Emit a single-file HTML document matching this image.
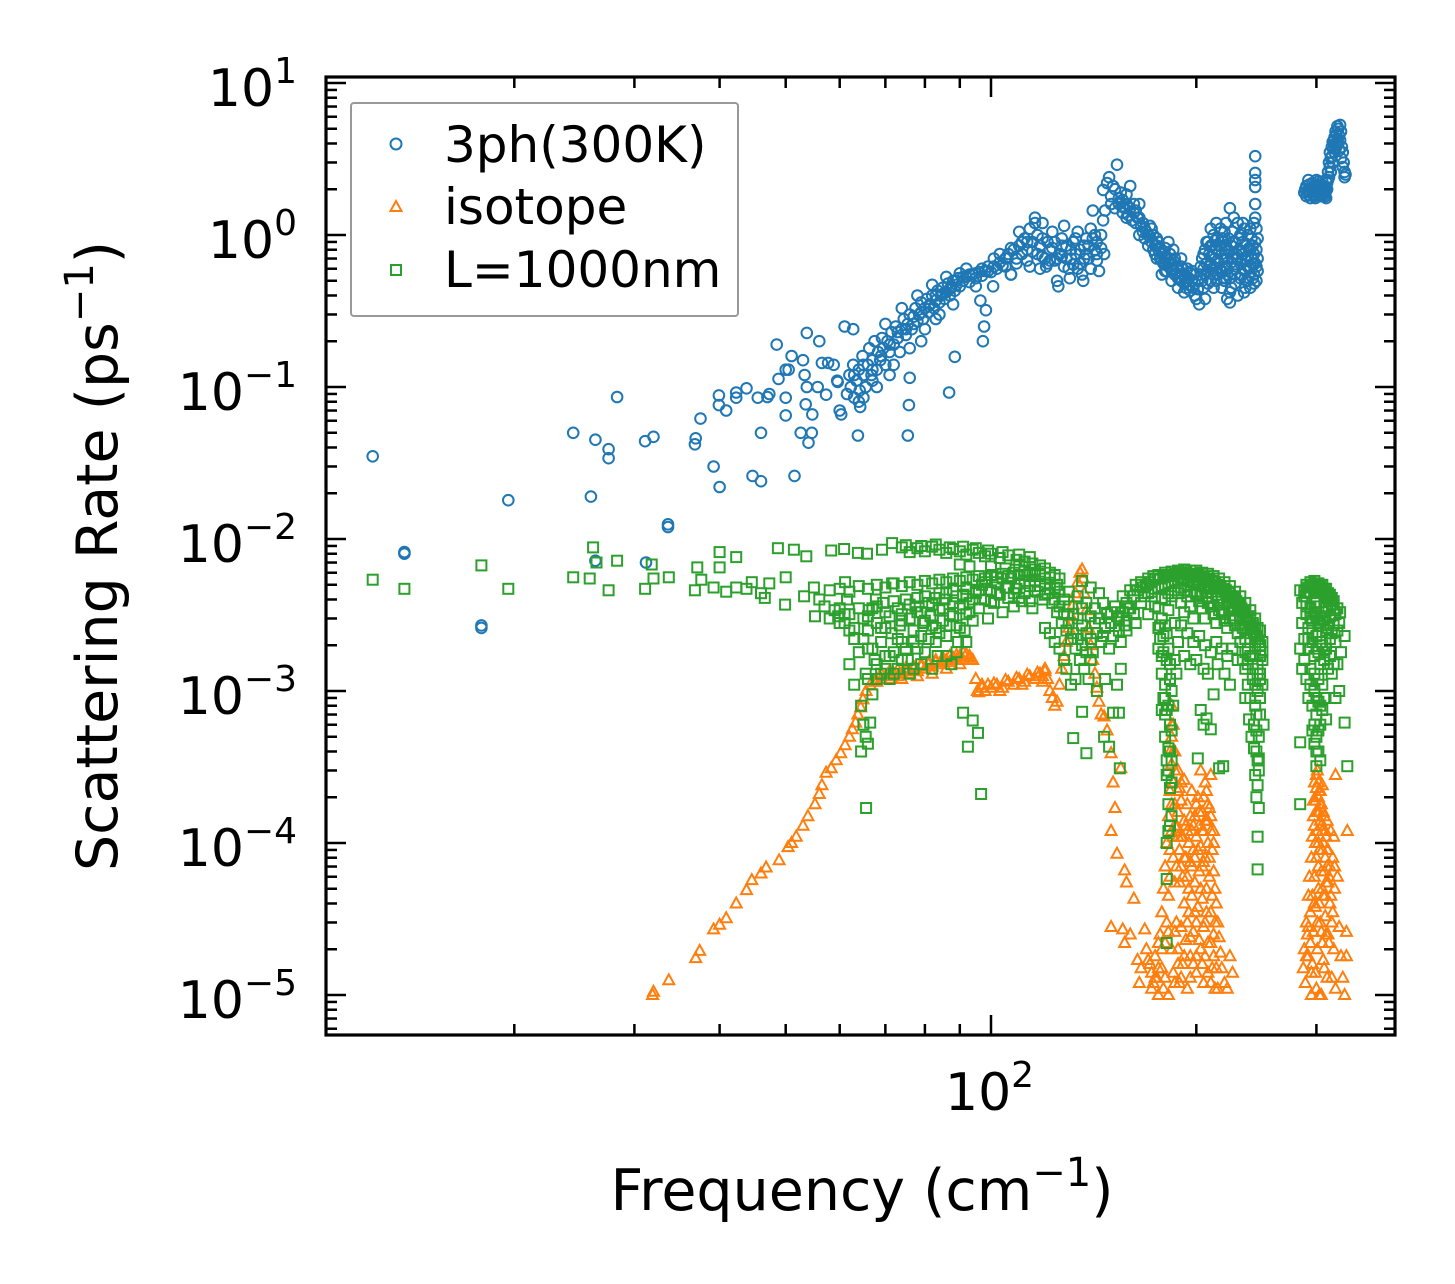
<!DOCTYPE html>
<html><head><meta charset="utf-8"><title>Scattering rate vs frequency</title>
<style>
html,body{margin:0;padding:0;background:#fff;}
svg{display:block;}
text{font-family:"DejaVu Sans","Liberation Sans",sans-serif;fill:#000;}
</style></head>
<body>
<svg id="chart" width="1455" height="1284" viewBox="0 0 1455 1284" xmlns="http://www.w3.org/2000/svg">
<defs><clipPath id="plotclip"><rect x="326" y="77" width="1069" height="958"/></clipPath></defs>
<rect x="0" y="0" width="1455" height="1284" fill="#fff"/>
<g id="marks" clip-path="url(#plotclip)"></g>
<g id="axes"></g>
<g>
  <rect x="351" y="103" width="387" height="213" fill="#fff" stroke="#999" stroke-width="2" rx="3"/>
  <g>
    <circle cx="396" cy="144" r="5.5" fill="none" stroke="#1f77b4" stroke-width="2"/>
    <text x="444" y="162" font-size="50">3ph(300K)</text>
  </g>
  <g>
    <polygon points="396,201 401.5,211 390.5,211" fill="none" stroke="#ff7f0e" stroke-width="2"/>
    <text x="444" y="224" font-size="50">isotope</text>
  </g>
  <g>
    <rect x="391" y="265" width="10" height="10" fill="none" stroke="#2ca02c" stroke-width="2"/>
    <text x="444" y="287" font-size="50">L=1000nm</text>
  </g>
</g>
<text x="862" y="1210" font-size="57" text-anchor="middle">Frequency (cm<tspan font-size="40" dy="-24">−1</tspan><tspan dy="24">)</tspan></text>
<text transform="translate(117,556) rotate(-90)" font-size="57" text-anchor="middle">Scattering Rate (ps<tspan font-size="40" dy="-24">−1</tspan><tspan dy="24">)</tspan></text>
</svg>
<script>
// ---- data ----
const yTickExps = [1, 0, -1, -2, -3, -4, -5];
const yTickLabels = ["1", "0", "−1", "−2", "−3", "−4", "−5"];
const xTickExps = [2];
const xTickLabels = ["2"];
const xMinorValues = [20, 30, 40, 50, 60, 70, 80, 90, 200, 300];

const threePh = [
[12.4,0.035],[13.8,0.0082],[13.8,0.0080],[17.9,0.0027],[17.9,0.0026],[19.6,0.018],[24.4,0.05],[26.3,0.045],[25.9,0.019],[27.5,0.039],[27.5,0.034],[28.3,0.086],[31.1,0.044],[32,0.047],[31.2,0.007],[26.3,0.0072],[33.6,0.0125],[33.6,0.012],
[36.8,0.042],[36.9,0.046],[37.5,0.062],[39.2,0.030],[40,0.022],[39.9,0.088],[39.9,0.076],[40.9,0.07],[43.8,0.098],[42.3,0.092],[42.3,0.085],[45.5,0.085],[47.3,0.09],[47,0.086],[48.8,0.113],[48.5,0.19],[51,0.16],[53,0.15],[53.7,0.227],[56,0.2],[50,0.13],[50.5,0.13],[53.3,0.12],[53.7,0.1],[55.7,0.1],[53.5,0.077],[54.7,0.066],[50,0.065],[50,0.085],[46,0.05],[44.7,0.026],[46,0.024],[51.5,0.026],[52.6,0.05],[54.6,0.05],[54,0.043],[57.3,0.089],[59.6,0.108],[60,0.07],[61,0.25],[62.8,0.24],[64.3,0.074],[63.8,0.048],[57.7,0.144],[56.5,0.144],[58.8,0.14],[59.5,0.11],[60.3,0.066],[64,0.08],
[75.8,0.076],[76,0.115],[75.5,0.048],[86.8,0.092],[88.5,0.158],[97.3,0.2],[97.7,0.25],[98.3,0.32],[96.5,0.37],[95,0.46],[100.7,0.46],[107,0.55],
[61.5,0.09],[62,0.12],[62.3,0.1],[62.8,0.14],[63,0.085],[63.5,0.11],[64,0.13],[64.2,0.095],[64.8,0.16],[65,0.12],[65.5,0.1],[66,0.14],[66.3,0.18],[66.8,0.12],[67,0.15],[67.5,0.2],[68,0.13],[68.3,0.17],[68.8,0.15],[69.2,0.21],[69.5,0.18],[70,0.14],[70.5,0.2],[71,0.17],[71.5,0.23],[72,0.19],[72.5,0.25],[73,0.21],[73.5,0.17],[74,0.24],[74.5,0.28],[75,0.22],[75.5,0.26],[76,0.3],[76.5,0.24],[77,0.29],[77.5,0.33],[78,0.27],[78.5,0.3],[79,0.36],[79.5,0.28],[80,0.33],[80.5,0.38],[81,0.31],[81.5,0.35],[82,0.4],[82.5,0.33],[83,0.37],[83.5,0.43],[84,0.36],[84.5,0.4],[85,0.45],[85.5,0.38],[86,0.42],[86.5,0.48],[87,0.4],[87.5,0.45],[88,0.5],[88.5,0.43],[89,0.47],[89.5,0.52],[90,0.46],[91,0.5],[92,0.53],[93,0.49],[94,0.55],[95,0.52],[96,0.57],[97,0.54],[98,0.58],[99,0.62],[100,0.57],[101,0.62],[102,0.6],[103,0.66],[104,0.63],[105,0.7],
[70,0.26],[74,0.33],[78,0.4],[82,0.47],[86,0.53],[90,0.56],[92,0.6],[68,0.1],[72,0.14],[76,0.18],[80,0.24],[84,0.3],[88,0.35],[65,0.085],[67,0.11],[71,0.12],[79,0.2],[83,0.28],
[106,0.75],[107,0.55],[108,0.8],[109,0.7],[110,0.85],[111,0.75],[112,0.95],[113,0.8],[114,1.1],[115,0.9],[116,1.3],[117,0.75],[118,0.85],[119,1.2],[120,0.7],[120.5,0.62],[121,0.9],[122,0.8],[123,1.05],[124,0.68],[125,0.5],[125.5,0.46],[126,0.75],[127,0.85],[128,1.15],[129,0.7],[130,0.6],[130.5,0.52],[131,0.8],[132,0.9],[133,0.75],[134,1.05],[135,0.65],[136,0.55],[136.5,0.5],[137,0.85],[138,0.95],[139,0.7],[140,1.1],[141,1.45],[142,0.8],[143,0.9],[144,0.58],[145,1.0],[146,1.25],[146.5,0.75],[147,1.45],[114,0.62],[118,0.6],[122,0.68],[128,0.62],[134,0.6],[140,0.6],[143,0.68],[110,1.05],[127,0.72],[132,0.64],[116,1.2],[113,0.9],[119,0.95],[124,0.9],[138,0.75],[142,1.0],
[146,1.98],[148,2.2],[149,2.4],[150,1.8],[151,2.1],[152,2.0],[153,2.9],[154,1.6],[155,1.9],[156,1.7],[157,1.5],[158,1.85],[160,2.1],[156,1.4],[158,1.3],[160,1.5],[162,1.4],[163,1.2],[164,1.3],[165,1.6],[166,1.15],[167,1.05],[168,1.1],[170,1.0],[171,1.15],[172,0.9],[173,0.8],[174,0.85],[175,0.95],[176,0.8],[177,0.7],[178,0.75],[179,0.65],[180,0.7],[180,0.82],[181,0.58],[182,0.65],[183,0.75],[184,0.6],[185,0.68],[186,0.55],[187,0.62],[188,0.52],[189,0.58],[190,0.5],[191,0.55],[192,0.48],[193,0.52],[194,0.6],[195,0.47],[196,0.56],[197,0.5],[198,0.45],[199,0.4],[200,0.38],[201,0.5],[202,0.35],[180,0.58],[185,0.8],[190,0.7],[175,0.7],[182,0.9],[178,0.55],[184,0.5],[188,0.45],[192,0.42],[196,0.43],[170,0.85],[165,1.0],
[203,0.55],[204,0.7],[205,0.6],[206,0.8],[207,0.65],[208,0.9],[209,0.75],[210,0.85],[211,0.6],[212,1.0],[213,0.7],[214,0.8],[215,0.95],[216,0.65],[217,1.1],[218,0.75],[219,0.9],[220,0.8],[221,1.2],[222,0.7],[223,0.95],[224,1.5],[224,0.36],[222,0.38],[225,0.85],[226,1.05],[227,0.6],[228,0.9],[229,0.75],[230,1.2],[231,0.8],[232,1.0],[233,0.55],[234,0.9],[235,1.1],[236,0.7],[237,0.85],[238,1.0],[239,0.6],[240,0.8],[241,0.95],[242,0.65],[243,0.75],[244,0.9],[244,1.3],[244,1.6],[244,2.07],[244,2.3],[244,2.56],[244,3.3],[245,0.8],[245,1.1],[245,0.5],[205,0.45],[210,0.5],[215,0.55],[220,0.5],[225,0.45],[230,0.4],[235,0.42],[240,0.45],[206,0.38],[212,0.45],[218,0.58],[228,0.55],[232,0.65],[238,0.5],[210,0.65],[214,0.6],[220,0.62],[226,0.7],[233,0.78],[208,0.58],[216,0.85],[222,0.55],[236,0.58],[242,0.52],[246,0.7],[246,0.95],[243,1.2],
[288,1.9],[290,2.1],[290,1.8],[292,2.3],[293,1.95],[295,2.0],[296,2.2],[297,1.85],[298,2.1],[300,1.9],[301,2.05],[302,2.25],[303,1.8],[304,2.0],[305,2.15],[306,1.9],[307,2.1],[308,1.85],[309,2.0],[310,2.3],[311,2.0],[312,2.6],[313,3.0],[314,3.5],[315,3.2],[316,3.8],[317,4.1],[318,3.7],[319,4.4],[320,4.0],[321,4.6],[322,4.2],[323,5.0],[324,4.5],[325,5.3],[326,4.8],[327,3.8],[328,3.5],[329,3.0],[330,2.6],[331,2.5],[326,3.2],[294,1.75],[299,1.75],[305,1.8],[309,1.8]
];

const threePhExtra = [
[150,1.6],[152,1.5],[154,1.75],[156,1.55],[158,1.6],[159,1.35],[161,1.25],[163,1.45],[165,1.3],[167,1.2],[169,1.05],[171,0.98],[173,1.0],[175,0.85],[177,0.82],[179,0.78],[181,0.72],[183,0.66],[185,0.6],[187,0.56],[189,0.52],[191,0.6],[193,0.45],[195,0.52],[197,0.58],[199,0.48],[201,0.44],[176,0.9],[178,0.68],[186,0.7],[190,0.62],[194,0.5],[198,0.55],[172,1.1],[168,0.95],[162,1.6],[174,0.75],
[203,0.62],[204,0.5],[205,0.75],[206,0.55],[207,0.9],[208,0.48],[209,0.62],[210,0.72],[211,0.85],[212,0.55],[213,0.92],[214,0.5],[215,0.68],[216,0.78],[217,0.58],[218,0.95],[219,0.52],[220,0.7],[221,0.86],[222,0.6],[223,0.78],[224,0.52],[225,0.66],[226,0.9],[227,0.75],[228,0.48],[229,0.62],[230,0.7],[231,0.95],[232,0.52],[233,0.68],[234,0.75],[235,0.6],[236,0.88],[237,0.5],[238,0.72],[239,0.82],[240,0.62],[241,0.7],[242,0.85],[243,0.55],[244,0.65],[245,0.62],[246,0.58],[210,1.1],[214,1.2],[220,1.05],[227,1.3],[234,1.2],[240,1.1],[218,0.45],[224,0.42],[236,0.45],[243,0.48],
[289,2.0],[291,1.95],[293,2.15],[294,1.9],[296,2.05],[297,2.0],[299,1.95],[300,2.1],[302,1.95],[303,2.05],[305,1.95],[306,2.05],[308,2.0],[310,1.95],[311,2.2],[312,2.3],[313,2.4],[314,2.8],[315,2.6],[316,3.3],[317,3.0],[318,4.2],[319,3.5],[320,4.8],[321,3.8],[322,5.2],[323,4.0],[324,3.6],[325,4.2],[328,2.8],[330,2.4],[292,1.85],[298,1.8],[304,1.85],[310,1.75],[306,2.25],[300,2.3],
[101,0.7],[103,0.75],[105,0.62],[107,0.82],[109,0.65],[111,0.9],[113,0.68],[115,0.78],[117,1.0],[119,0.72],[121,0.65],[123,0.82],[125,0.7],[127,0.95],[129,0.85],[131,0.7],[133,0.95],[135,0.8],[137,0.7],[139,0.85],[141,0.95],[143,0.75],[145,0.82],
[63,0.12],[65,0.14],[67,0.13],[69,0.16],[71,0.19],[73,0.23],[75,0.24],[77,0.26],[79,0.31],[81,0.34],[83,0.4],[85,0.41],[87,0.44],[89,0.5],[91,0.53],[93,0.55],[95,0.56],[97,0.6],[99,0.58]
];

const isotope = [
[31.9,1.0e-5],[32.0,1.05e-5],[33.7,1.25e-5],[36.9,1.75e-5],[37.4,1.95e-5],[39.2,2.7e-5],[40.0,2.9e-5],[40.9,3.2e-5],[42.3,4.0e-5],[43.8,4.9e-5],[44.6,5.7e-5],[46.0,6.3e-5],[46.8,6.9e-5],[48.9,7.7e-5],[50.4,9.4e-5],[51.0,1.0e-4],[51.8,1.1e-4],[53.0,1.3e-4],[53.9,1.5e-4],[55.2,1.8e-4],[56.0,2.1e-4],[56.5,2.4e-4],[57.3,2.9e-4],[58.3,3.1e-4],[59.3,3.5e-4],[60.2,3.9e-4],[61.1,4.4e-4],[62.0,5.0e-4],[62.6,5.6e-4],[63.3,6.2e-4],[63.8,7.0e-4],[64.4,7.8e-4],[64.9,8.8e-4],[65.6,1.0e-3],[66.5,1.1e-3],[67.5,1.15e-3],
[68,1.15e-3],[69,1.2e-3],[70,1.25e-3],[71,1.2e-3],[72,1.3e-3],[73,1.25e-3],[74,1.3e-3],[75,1.35e-3],[76,1.3e-3],[77,1.4e-3],[78,1.35e-3],[79,1.45e-3],[80,1.4e-3],[81,1.5e-3],[82,1.45e-3],[83,1.55e-3],[84,1.5e-3],[85,1.55e-3],[86,1.6e-3],[87,1.55e-3],[88,1.65e-3],[89,1.6e-3],[90,1.7e-3],[91,1.6e-3],[92,1.75e-3],[93,1.65e-3],[94,1.6e-3],[95,1.2e-3],[95.5,1.0e-3],[96,0.98e-3],[97,1.05e-3],[98,1.0e-3],[99,1.1e-3],[100,1.05e-3],[102,1.1e-3],[104,1.05e-3],[106,1.15e-3],[108,1.1e-3],[110,1.2e-3],[112,1.15e-3],[114,1.25e-3],[116,1.2e-3],[118,1.3e-3],[119,1.25e-3],[120,1.35e-3],[121,1.2e-3],[122,1.0e-3],[123,0.9e-3],[124,0.8e-3],[125,0.85e-3],[126,1.1e-3],[127,1.4e-3],[128,1.7e-3],[129,2.1e-3],[130,2.6e-3],[131,3.1e-3],[132,3.7e-3],[133,4.4e-3],[134,5.2e-3],[135,6.0e-3],[136,6.3e-3],[136.5,5.5e-3],[137,4.4e-3],[138,3.4e-3],[139,2.6e-3],[140,2.0e-3],[141,1.6e-3],[142,1.3e-3],[143,1.05e-3],[144,8.5e-4],[145,7e-4],
[146.5,6.8e-4],[148,5.5e-4],[150,3.9e-4],[151,2.5e-4],[152,1.7e-4],[150,1.2e-4],[153,8.5e-5],[157,6.6e-5],[158,5.5e-5],[162,4.3e-5],[150,2.8e-5],[156,2.7e-5],[160,2.5e-5],[157,2.2e-5],[164,1.7e-5],[166,1.5e-5],[165,1.2e-5],[155,3.1e-4],
[168,2.7e-5],[169,2e-5],[170,1.7e-5],[171,1.6e-5],[172,1.4e-5],[173,1.2e-5],[174,1.8e-5],[175,1.3e-5],[176,1.0e-5],[177,2.5e-5],[178,3.5e-5],[178,1.5e-5],[179,5e-5],[180,7e-5],[180,2.2e-5],[181,1e-4],[181,3e-5],[182,1.5e-4],[182,4.5e-5],[183,2.2e-4],[183,6e-5],[184,3.3e-4],[184,5e-4],[184,8e-4],[184,1.2e-4],[185,2.5e-4],[185,8e-5],[185,1.4e-5],[186,1.8e-4],[186,5.5e-5],[187,1.3e-4],[187,3e-5],[188,1.1e-4],[188,2e-5],[189,9e-5],[189,1.2e-5],[190,7e-5],[190,2.8e-5],[191,1.1e-4],[191,1.6e-5],[192,8e-5],[192,4e-5],[193,1.3e-4],[193,2.3e-5],[194,6e-5],[194,1.1e-5],[195,1e-4],[195,3.5e-5],[196,7.5e-5],[196,1.8e-5],[197,1.2e-4],[197,4.5e-5],[198,9e-5],[198,2.6e-5],[199,1.5e-4],[199,5.5e-5],[200,1.1e-4],[200,1.4e-5],[201,2e-4],[201,3.8e-5],[202,1.3e-4],[202,6.5e-5],[203,9.5e-5],[203,2e-5],[204,1.6e-4],[204,4.3e-5],[205,1.2e-4],[205,1.2e-5],[206,8e-5],[206,3e-5],[207,1.4e-4],[207,5e-5],[208,1e-4],[208,2.2e-5],[209,1.7e-4],[209,6e-5],[210,1.2e-4],[210,3.5e-5],[211,9e-5],[211,1.5e-5],[212,6.5e-5],[212,2.5e-5],[213,5e-5],[213,1.1e-5],[214,4e-5],[215,3e-5],[216,2.4e-5],[217,1.9e-5],[218,1.5e-5],[220,1.2e-5],[222,1.1e-5],[224,1.8e-5],[226,1.4e-5],[210,2.8e-4],[206,2.5e-4],[203,3e-4],[190,1.9e-4],[188,3e-4],[192,2.6e-4],[197,2.2e-4],[179,1.1e-5],[182,1.0e-5],[176,2.2e-5],[186,1.2e-5],[200,1.8e-5],[205,2.8e-5],[196,1.3e-5],[210,1.2e-5],[215,1.1e-5],[183,4e-4],[185,6e-4],[186,4e-4],[189,2.3e-4],[194,1.8e-4],[199,8e-5],[204,7e-5],[208,1.4e-4],[212,1.0e-4],
[287,1.5e-5],[288,2e-5],[289,1.2e-5],[290,3e-5],[291,2.5e-5],[292,4.5e-5],[292,1.8e-5],[293,6e-5],[294,3.5e-5],[295,8e-5],[295,1.4e-5],[296,1.1e-4],[296,4.5e-5],[297,1.5e-4],[297,2.6e-5],[298,1.3e-4],[298,6e-5],[299,1.9e-4],[299,3.8e-5],[300,2.3e-4],[300,8e-5],[300,1.1e-5],[301,3e-4],[301,1.2e-4],[301,2e-5],[302,2e-4],[302,5e-5],[303,1.6e-4],[303,9e-5],[303,1e-5],[304,1.4e-4],[304,3e-5],[305,1.8e-4],[305,6.5e-5],[306,1.2e-4],[306,2.2e-5],[307,1e-4],[307,4.5e-5],[308,1.5e-4],[308,1.5e-5],[309,8e-5],[309,3.3e-5],[310,1.1e-4],[310,5.5e-5],[311,7e-5],[311,1.3e-5],[312,9e-5],[312,2.5e-5],[313,6e-5],[314,4e-5],[315,1.2e-4],[316,3e-5],[317,8e-5],[318,2e-5],[319,5e-5],[320,1.1e-5],[322,6e-5],[324,2.8e-5],[326,1.8e-5],[328,1.3e-5],[330,1e-5],[332,2.6e-5],[332,1.8e-5],[333,1.2e-4],[320,2.8e-4],[298,2.5e-4],[305,1.0e-5],[295,1e-5],[302,1.0e-4],[304,2.2e-4],[306,9e-5],[300,1.6e-4]
];

const isotopeExtra = [
[172,1.1e-5],[174,1.3e-5],[176,1.5e-5],[178,2e-5],[180,1.3e-5],[182,2.6e-5],[184,2e-5],[186,2.6e-5],[188,1.6e-5],[190,1.3e-5],[192,1.8e-5],[194,3e-5],[196,2.4e-5],[198,1.6e-5],[200,3e-5],[202,2.3e-5],[204,1.6e-5],[206,1.8e-5],[208,1.4e-5],[210,2.2e-5],[212,1.8e-5],[214,1.5e-5],[183,9e-5],[185,1.1e-4],[187,7e-5],[189,5.5e-5],[191,6e-5],[193,8e-5],[195,5e-5],[197,7e-5],[199,3.5e-5],[201,9e-5],[203,5e-5],[205,7.5e-5],[207,3.5e-5],[209,8e-5],[211,4.5e-5],[213,3e-5],[184,1.8e-4],[186,1.3e-4],[188,1.6e-4],[190,1.1e-4],[192,1.4e-4],[194,1.2e-4],[196,1.5e-4],[198,1.3e-4],[200,1.8e-4],[202,1.6e-4],[204,1.2e-4],[206,1.4e-4],[208,1.8e-4],[210,1.5e-4],[212,1.2e-4],[185,4e-4],[184,6e-4],[186,3e-4],[188,2.2e-4],[190,2.5e-4],[207,2.2e-4],[205,2e-4],
[290,1.8e-5],[292,2.8e-5],[294,2.2e-5],[296,1.6e-5],[298,4e-5],[299,1.4e-5],[301,3e-5],[302,7e-5],[303,4e-5],[305,2.6e-5],[306,5e-5],[307,1.7e-5],[308,6.5e-5],[309,4.5e-5],[310,2.5e-5],[311,9e-5],[312,5.5e-5],[313,2.2e-5],[314,7e-5],[315,4.5e-5],[316,1.3e-5],[317,3.5e-5],[318,1.1e-4],[319,7e-5],[299,1.0e-4],[301,1.6e-4],[303,2.2e-4],[305,1.3e-4],[307,1.6e-4],[309,1.2e-4],[311,1.4e-4],[297,1.9e-4],[300,2.8e-4],[302,2.5e-4],[304,1.8e-4],[306,2.4e-4],
[69,1.3e-3],[71,1.35e-3],[73,1.38e-3],[75,1.42e-3],[77,1.45e-3],[79,1.5e-3],[81,1.55e-3],[83,1.6e-3],[85,1.65e-3],[87,1.7e-3],[89,1.72e-3],[91,1.78e-3],[93,1.7e-3],[97,1.1e-3],[101,1.12e-3],[105,1.18e-3],[109,1.22e-3],[113,1.28e-3],[117,1.32e-3],[120,1.4e-3],[74,1.2e-3],[78,1.25e-3],[82,1.3e-3],[86,1.4e-3],[90,1.5e-3],[103,1.0e-3],[111,1.1e-3],[119,1.15e-3]
];

const boundary = [
[12.4,0.0054],[13.8,0.0047],[17.9,0.0067],[19.6,0.0047],[24.4,0.0056],[26.1,0.0088],[26.4,0.0070],[25.8,0.0055],[27.5,0.0046],[28.3,0.0072],[31.1,0.0047],[32.0,0.0055],[31.8,0.0068],[33.7,0.0056],[36.8,0.0046],[37.1,0.0065],[37.6,0.0054],[40.0,0.0082],[40.0,0.0065],[42.3,0.0076],[39.2,0.0048],[40.9,0.0045],[42.3,0.0048],[43.8,0.0047],[44.6,0.0052],[46.0,0.0044],[47.3,0.0051],[48.7,0.0087],[51.4,0.0085],[53.6,0.0077],[58.3,0.0084],[60.9,0.0086],[63.8,0.0081],[65.8,0.0080],[69.2,0.0085],[71.6,0.0094],[49.9,0.0037],[46.6,0.0041],[50.0,0.0056],[53.2,0.0042],[55.2,0.0031],[56.0,0.0040],[61.1,0.0052],[61.5,0.0040],[59.7,0.0031],[66.2,0.0034],[67.8,0.0040],[71.6,0.0051],
[74,0.0088],[76,0.0082],[78,0.0087],[80,0.0083],[82,0.0089],[84,0.0085],[86,0.0081],[88,0.0086],[90,0.0083],[92,0.0079],[94,0.0085],[96,0.0081],[98,0.0077],[100,0.0080],[103,0.0075],[106,0.0078],[109,0.0073],[112,0.0071],[115,0.0069],[118,0.0067],[75,0.0091],[79,0.009],[83,0.0092],[87,0.0088],[91,0.0089],[95,0.0087],[99,0.0084],[104,0.0082],[110,0.0079],[114,0.0076],
[55,0.0048],[58,0.0046],[60,0.0047],[62,0.0045],[64,0.0049],[66,0.0047],[68,0.005],[70,0.0048],[72,0.0051],[74,0.0049],[76,0.0052],[78,0.005],[80,0.0053],[82,0.0051],[84,0.0054],[86,0.0052],[88,0.0055],[90,0.0053],[92,0.0056],[94,0.0054],[96,0.0057],[98,0.0055],[100,0.0058],[102,0.0056],[104,0.0059],[106,0.0057],[108,0.006],[110,0.0058],[112,0.0062],[114,0.006],[116,0.0063],[118,0.0061],[120,0.0064],[122,0.006],[124,0.0058],[126,0.0055],
[57,0.0036],[58,0.003],[59,0.0034],[60,0.0028],[61,0.0032],[62,0.0025],[62,0.0015],[63,0.0022],[64,0.0018],[65,0.003],[65.5,0.0013],[66,0.0025],[67,0.0035],[67.5,0.0016],[68,0.0028],[69,0.0021],[69.5,0.0038],[70,0.0014],[71,0.0031],[71.5,0.0024],[72,0.0018],[73,0.0035],[73.5,0.0027],[74,0.0021],[75,0.004],[75.5,0.0016],[76,0.003],[77,0.0025],[77.5,0.0036],[78,0.0019],[79,0.0033],[79.5,0.0028],[80,0.0042],[81,0.0022],[81.5,0.0031],[82,0.0037],[83,0.0026],[83.5,0.0017],[84,0.0034],[85,0.0029],[85.5,0.004],[86,0.0023],[87,0.0032],[87.5,0.0015],[88,0.0038],[89,0.0027],[89.5,0.0021],[90,0.0035],[91,0.0043],[91.5,0.0025],[92,0.0032],[93,0.0038],[94,0.0029],[95,0.0044],[63,0.0011],[64.5,0.0008],[65,0.0006],[65.5,0.0005],[66,0.00045],[66.5,0.00062],[67,0.00095],[68,0.0012],[64.5,0.0004],[65.6,0.00017],[69,0.0013],[71,0.0012],[73,0.0014],[76,0.0013],[79,0.0015],[82,0.0014],[66,0.0019],[70,0.0026],[74,0.0032],[78,0.0041],[84,0.0044],[88,0.0046],[92,0.0042],
[91,0.00072],[94,0.00064],[95.7,0.00053],[92.5,0.00043],[96.7,0.00021],[90,0.0068],[93,0.0066],
[95,0.0045],[96,0.0035],[97,0.005],[98,0.004],[99,0.003],[100,0.0046],[101,0.0038],[102,0.0052],[103,0.0043],[104,0.0033],[105,0.0048],[106,0.0041],[107,0.0055],[108,0.0036],[109,0.0047],[110,0.0051],[111,0.0039],[112,0.0044],[113,0.0058],[114,0.0049],[115,0.0035],[116,0.0053],[117,0.0045],[118,0.0059],[119,0.004],[120,0.005],[121,0.0044],[122,0.0056],[123,0.0038],[124,0.0048],[125,0.0033],[126,0.0045],[127,0.0028],[128,0.004],[129,0.0025],[130,0.0036],[131,0.0022],[132,0.0032],[133,0.0019],[134,0.003],[135,0.0016],[136,0.0027],[137,0.0014],[138,0.0024],[139,0.0012],[140,0.0022],[129,0.0014],[131,0.0011],[133,0.0012],[128,0.0016],[126,0.0019],[124,0.0021],[122,0.0024],[120,0.0026],[130,0.0045],[134,0.0042],[138,0.0038],[142,0.0035],[144,0.003],[146,0.0038],[148,0.0032],[150,0.0028],[152,0.0036],[154,0.0025],[156,0.0033],[158,0.0029],[141,0.0018],[143,0.0024],[145,0.0021],[147,0.0026],[149,0.0019],[151,0.0023],[153,0.0031],[155,0.0021],[157,0.0027],[159,0.0035],[136,0.0053],[140,0.0048],[144,0.0044],
[132,0.00049],[136,0.00073],[138,0.00039],[146.5,0.0005],[151,0.00072],[154.5,0.00031],[149,0.00043],[154,0.00072],[153,0.0011],[155,0.0014],[143,0.0010],[147,0.0012],
[156,0.0042],[160,0.0046],[163,0.005],[166,0.0052],[170,0.0055],[173,0.0057],[176,0.0058],[180,0.006],[184,0.0061],[188,0.0062],[192,0.0063],[196,0.0062],[200,0.0062],[204,0.006],[208,0.0059],[212,0.0057],[216,0.0055],[220,0.0052],[224,0.0049],[228,0.0045],[232,0.0042],[236,0.0038],[240,0.0034],[244,0.003],[248,0.0025],[250,0.0021],
[160,0.0035],[163,0.0028],[166,0.0038],[168,0.0042],[170,0.0032],[172,0.0045],[174,0.0036],[176,0.0048],[178,0.0041],[180,0.005],[182,0.0044],[184,0.0052],[186,0.0046],[188,0.0054],[190,0.0048],[192,0.0055],[194,0.005],[196,0.0056],[198,0.0052],[200,0.0054],[202,0.005],[204,0.0053],[206,0.0047],[208,0.0052],[210,0.0045],[212,0.005],[214,0.0043],[216,0.0048],[218,0.0041],[220,0.0045],[222,0.0038],[224,0.0042],[226,0.0036],[228,0.004],[230,0.0034],[232,0.0037],[234,0.0031],[236,0.0034],[238,0.0029],[240,0.0031],[242,0.0027],[244,0.0026],[246,0.0022],[248,0.002],
[176,0.0035],[178,0.003],[180,0.0027],[182,0.0034],[177,0.0022],[179,0.0018],[181,0.0024],[183,0.0015],[178,0.0013],[180,0.0011],[182,0.0019],[184,0.001],[179,0.0009],[181,0.00075],[183,0.0006],[180,0.0005],[182,0.00042],[184,0.00035],[181,0.00028],[183,0.00023],[182,0.00018],[184,0.00015],[181,0.0001],[183,0.00013],[181,5.8e-5],[181,2.2e-5],[178,0.00075],[186,0.0028],[186,0.0016],[176,0.0019],[185,0.0008],
[190,0.0038],[192,0.0033],[194,0.0042],[196,0.0036],[198,0.003],[200,0.0044],[202,0.0039],[204,0.0035],[206,0.003],[208,0.0041],[210,0.0036],[212,0.0032],[214,0.0028],[216,0.0037],[218,0.0033],[220,0.0029],[222,0.0026],[224,0.0034],[226,0.003],[228,0.0027],[230,0.0024],[232,0.003],[190,0.0027],[194,0.0024],[198,0.0021],[202,0.0023],[206,0.002],[210,0.0018],[214,0.0021],[218,0.0019],[222,0.0017],[226,0.0019],[230,0.0016],[192,0.0017],[196,0.0015],[200,0.0016],[205,0.0014],[208,0.0013],[215,0.0015],[220,0.0013],[188,0.0021],[187,0.0013],
[203,0.00075],[205,0.0006],[207,0.00066],[210,0.00056],[201,0.00036],[216,0.00031],[219,0.00032],[212,0.00095],[224,0.0011],
[234,0.0026],[236,0.0022],[238,0.0019],[240,0.0024],[242,0.0017],[244,0.0021],[246,0.0015],[248,0.0012],[236,0.0014],[238,0.0011],[240,0.0009],[242,0.0012],[244,0.0008],[246,0.001],[248,0.0007],[239,0.00065],[241,0.0005],[243,0.00042],[245,0.00055],[247,0.00036],[244,0.00028],[246,0.00024],[245,0.0002],[247,0.00017],[246,0.00011],[246,6.7e-5],[234,0.0016],[250,0.0016],[250,0.0011],[251,0.0006],[236,0.0009],[232,0.0021],
[284,0.0046],[286,0.0038],[288,0.0042],[290,0.005],[292,0.0045],[294,0.0052],[296,0.0048],[298,0.0053],[300,0.0049],[302,0.0051],[304,0.0046],[306,0.005],[308,0.0044],[310,0.0047],[312,0.0041],[314,0.0043],[316,0.0037],[318,0.0039],[320,0.0032],[322,0.0035],[324,0.0028],[286,0.0028],[288,0.0022],[290,0.0032],[292,0.0026],[294,0.0035],[296,0.0029],[298,0.0038],[300,0.0031],[302,0.0036],[304,0.0027],[306,0.0033],[308,0.0029],[310,0.0035],[312,0.0026],[314,0.0031],[316,0.0024],[318,0.0027],[320,0.0021],[322,0.0025],[288,0.0016],[290,0.0012],[292,0.0019],[294,0.0014],[296,0.0021],[298,0.0017],[300,0.0023],[302,0.0018],[304,0.0015],[306,0.002],[308,0.0016],[310,0.0019],[312,0.0014],[314,0.0017],[316,0.0013],[318,0.0015],[284,0.0019],[286,0.0014],[292,0.0009],[294,0.0011],[296,0.0008],[298,0.001],[300,0.0007],[302,0.00085],[304,0.0006],[306,0.00075],[308,0.0009],[310,0.00065],[296,0.00055],[298,0.00045],[300,0.0005],[302,0.0004],[304,0.00035],[300,0.00032],[284,0.00046],[284,0.00018],[333,0.00032],[330,0.00062],[330,0.0023],[325,0.0033],[322,0.0015],[324,0.001],[320,0.0009],[326,0.0018]
];

const boundaryExtra = [
[158,0.0038],[162,0.0042],[164,0.0046],[167,0.0048],[169,0.005],[171,0.0052],[174,0.0054],[177,0.0055],[179,0.0056],[181,0.0057],[183,0.0058],[185,0.0057],[187,0.0059],[189,0.006],[191,0.0059],[193,0.006],[195,0.0059],[197,0.0058],[199,0.0059],[201,0.0058],[203,0.0057],[205,0.0056],[207,0.0055],[209,0.0054],[211,0.0053],[213,0.0052],[215,0.005],[217,0.0049],[219,0.0047],[221,0.0046],[223,0.0044],[225,0.0042],[227,0.0041],[229,0.0039],[231,0.0037],[233,0.0035],[235,0.0033],[237,0.003],[239,0.0028],[241,0.0026],[243,0.0024],[245,0.0023],[247,0.0021],
[170,0.0044],[174,0.0047],[178,0.0049],[182,0.0051],[186,0.0053],[190,0.0054],[194,0.0053],[198,0.0052],[202,0.0051],[206,0.005],[210,0.0049],[214,0.0047],[218,0.0045],[222,0.0042],[226,0.0039],[230,0.0036],[234,0.0033],[238,0.0031],[242,0.0028],[246,0.0026],
[180,0.004],[184,0.0042],[188,0.0044],[192,0.0046],[196,0.0045],[200,0.0043],[204,0.0042],[208,0.0038],[212,0.0036],[216,0.0034],[220,0.0032],[224,0.003],[228,0.0029],[232,0.0027],[236,0.0025],[240,0.0022],[244,0.0019],[248,0.0017],
[177,0.0027],[179,0.0023],[181,0.0016],[183,0.0012],[182,0.0008],[180,0.0007],[184,0.00055],[182,0.0003],[183,0.0004],[181,0.00035],[184,0.00025],[182,0.00012],[180,0.0009],[178,0.0017],[176,0.0026],
[240,0.0017],[242,0.0014],[244,0.0011],[246,0.0013],[248,0.0009],[245,0.0007],[247,0.0005],[243,0.0006],[245,0.0004],[247,0.0003],[246,0.00035],[248,0.0013],[250,0.0018],[238,0.0015],[236,0.0018],
[288,0.0045],[290,0.0042],[292,0.0048],[294,0.0044],[296,0.005],[298,0.0046],[300,0.0051],[302,0.0047],[304,0.0049],[306,0.0045],[308,0.0047],[310,0.0042],[312,0.0044],[314,0.0039],[316,0.0041],[318,0.0034],[290,0.0036],[294,0.003],[298,0.0033],[302,0.0028],[306,0.003],[310,0.0025],[314,0.0022],[296,0.0024],[300,0.0019],[304,0.0021],[308,0.0018],[292,0.0022],[298,0.0013],[302,0.0012],[306,0.0011],[300,0.0009],[304,0.0008],[298,0.0006],[302,0.00055],[300,0.0004],
[60,0.0035],[61,0.0028],[62,0.0032],[63,0.0026],[64,0.0035],[65,0.0022],[66,0.0031],[67,0.0019],[68,0.0036],[69,0.0026],[70,0.0033],[71,0.0017],[72,0.0039],[73,0.0022],[74,0.0029],[75,0.0019],[76,0.0037],[77,0.0021],[78,0.0033],[79,0.0023],[80,0.0029],[81,0.0038],[82,0.0027],[83,0.0041],[84,0.0024],[85,0.0035],[86,0.0044],[87,0.0027],[88,0.0031],[89,0.0042],[90,0.0026],[91,0.0037],[92,0.0047],[93,0.0033],[94,0.004],[66,0.0012],[68,0.0015],[70,0.0017],[72,0.0013],[74,0.0016],[77,0.0014],[80,0.0018],[83,0.0021],[86,0.0017],[89,0.0018],[92,0.0021],
[96,0.0046],[98,0.0052],[100,0.0039],[102,0.0044],[104,0.0055],[106,0.0048],[108,0.0044],[110,0.0041],[112,0.0053],[114,0.0039],[116,0.0046],[118,0.0049],[120,0.0043],[122,0.0047],[124,0.004],[126,0.0036],[128,0.0032],[130,0.0028],[132,0.0024],[134,0.0022],[136,0.002],[138,0.0018],[140,0.0016],[142,0.0028],[146,0.0023],[150,0.0033],[154,0.003],[158,0.0025],[162,0.0032],[136,0.0035],[140,0.0031],[100,0.0066],[105,0.0064],[110,0.0066],[115,0.0058],[120,0.0055],[125,0.005]
];

// ---- scales ----
const X_REF = 991, X_DEC = 682, Y_REF = 235, Y_DEC = 152;
function xScale(f) { return X_REF + X_DEC * Math.log10(f / 100); }
function yScale(r) { return Y_REF - Y_DEC * Math.log10(r); }

const NS = "http://www.w3.org/2000/svg";
const marks = document.getElementById("marks");
const axes = document.getElementById("axes");

function mk(tag, attrs, parent) {
  const el = document.createElementNS(NS, tag);
  for (const k in attrs) el.setAttribute(k, attrs[k]);
  parent.appendChild(el);
  return el;
}

// series 3ph: circles
const g1 = mk("g", {}, marks);


threePh.concat(threePhExtra).forEach(function (d) {
  const c = mk("circle", {cx: xScale(d[0]).toFixed(1), cy: yScale(d[1]).toFixed(1), r: 5.3, fill: "none", stroke: "#1f77b4", "stroke-width": 2}, g1);
  
  
});

// series isotope: triangles
const g2 = mk("g", {}, marks);


isotope.concat(isotopeExtra).forEach(function (d) {
  const x = xScale(d[0]), y = yScale(d[1]);
  const p = mk("polygon", {points: x.toFixed(1) + "," + (y - 6).toFixed(1) + " " + (x + 5.5).toFixed(1) + "," + (y + 4).toFixed(1) + " " + (x - 5.5).toFixed(1) + "," + (y + 4).toFixed(1), fill: "none", stroke: "#ff7f0e", "stroke-width": 2}, g2);
  
  
});

// series boundary L=1000nm: squares
const g3 = mk("g", {}, marks);


boundary.concat(boundaryExtra).forEach(function (d) {
  const x = xScale(d[0]), y = yScale(d[1]);
  const s = mk("rect", {x: (x - 5).toFixed(1), y: (y - 5).toFixed(1), width: 10, height: 10, fill: "none", stroke: "#2ca02c", "stroke-width": 2}, g3);
  
  
});

// ---- axes ----
const L = 326, R = 1395, T = 77, B = 1035;
const frame = mk("rect", {x: L, y: T, width: R - L, height: B - T, fill: "none", stroke: "#000", "stroke-width": 3.2}, axes);



for (let e = -6; e <= 1; e++) {
  for (let m = 1; m <= 9; m++) {
    const v = m * Math.pow(10, e);
    const y = yScale(v);
    if (y < T || y > B) continue;
    const len = (m === 1) ? 20 : 11;
    const tl = mk("line", {x1: L, x2: L + len, y1: y, y2: y, stroke: "#000", "stroke-width": 2.5}, axes);
    
    
    const tr = mk("line", {x1: R, x2: R - len, y1: y, y2: y, stroke: "#000", "stroke-width": 2.5}, axes);
    
    
  }
}
yTickExps.forEach(function (e, i) {
  const y = yScale(Math.pow(10, e));
  const t = mk("text", {x: 297, y: y + 23, "font-size": 52, "text-anchor": "end"}, axes);
  
  
  const a = mk("tspan", {}, t); a.textContent = "10";
  const b = mk("tspan", {"font-size": 36, dy: -23}, t); b.textContent = yTickLabels[i];
});

xMinorValues.forEach(function (v) {
  const x = xScale(v);
  const tb = mk("line", {x1: x, x2: x, y1: B, y2: B - 11, stroke: "#000", "stroke-width": 2.5}, axes);
  
  
  const tt = mk("line", {x1: x, x2: x, y1: T, y2: T + 11, stroke: "#000", "stroke-width": 2.5}, axes);
  
  
});
xTickExps.forEach(function (e, i) {
  const x = xScale(Math.pow(10, e));
  const tb = mk("line", {x1: x, x2: x, y1: B, y2: B - 20, stroke: "#000", "stroke-width": 2.5}, axes);
  
  
  const tt = mk("line", {x1: x, x2: x, y1: T, y2: T + 20, stroke: "#000", "stroke-width": 2.5}, axes);
  
  
  const t = mk("text", {x: x - 46, y: 1110, "font-size": 52}, axes);
  
  
  const a = mk("tspan", {}, t); a.textContent = "10";
  const b = mk("tspan", {"font-size": 36, dy: -23}, t); b.textContent = xTickLabels[i];
});
</script>
</body></html>
